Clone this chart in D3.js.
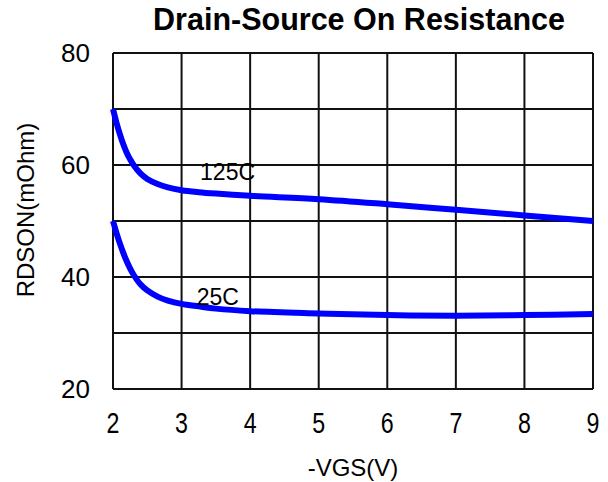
<!DOCTYPE html>
<html>
<head>
<meta charset="utf-8">
<script src="https://cdn.jsdelivr.net/npm/d3@7"></script>
<style>
  html, body { margin: 0; padding: 0; background: #fff; }
  svg { display: block; }
</style>
</head>
<body>
<script>
// Gate voltage sweep (V) and on-resistance readings (mOhm) per junction temperature
const vgs = [2, 2.05, 2.1, 2.15, 2.2, 2.25, 2.3, 2.4, 2.5, 2.65, 2.8, 3, 3.25, 3.5, 4, 5, 6, 7, 8, 9];
const rdson125 = [70, 67.6, 65.5, 63.7, 62.2, 61.0, 60.0, 58.5, 57.5, 56.6, 56.0, 55.5, 55.15, 54.9, 54.5, 53.9, 53.0, 52.0, 51.0, 50.0];
const rdson25 = [50, 47.9, 46.0, 44.3, 42.8, 41.5, 40.4, 38.7, 37.6, 36.5, 35.8, 35.2, 34.75, 34.35, 33.9, 33.5, 33.2, 33.1, 33.2, 33.4];
const seriesNames = ["125C", "25C"];
const labelAnchors = [[3.27, 57.3], [3.22, 35.0]];
const xTicks = [2, 3, 4, 5, 6, 7, 8, 9];
const yTicks = [20, 40, 60, 80];
const yGrid = [20, 30, 40, 50, 60, 70, 80];

const W = 608, H = 482;
const plotLeft = 113, plotRight = 593, plotTop = 53, plotBottom = 389;

const svg = d3.select("body").append("svg").attr("width", W).attr("height", H);

const x = d3.scaleLinear().domain([2, 9]).range([plotLeft, plotRight]);
const y = d3.scaleLinear().domain([20, 80]).range([plotBottom, plotTop]);

// Grid
const grid = svg.append("g").attr("stroke", "#111").attr("stroke-width", 2);
grid.selectAll("line.v").data(xTicks).join("line")
  .attr("class", "v")
  .attr("x1", d => x(d)).attr("x2", d => x(d))
  .attr("y1", plotTop).attr("y2", plotBottom);
grid.selectAll("line.h").data(yGrid).join("line")
  .attr("class", "h")
  .attr("x1", plotLeft).attr("x2", plotRight)
  .attr("y1", d => y(d)).attr("y2", d => y(d));

// Curves
const line = d3.line().x(d => x(d[0])).y(d => y(d[1])).curve(d3.curveCatmullRom.alpha(0.5));
[rdson125, rdson25].forEach(vals => {
  svg.append("path")
    .datum(vgs.map((v, i) => [v, vals[i]]))
    .attr("fill", "none")
    .attr("stroke", "#0000ff")
    .attr("stroke-width", 6)
    .attr("d", line);
});

// Curve labels
svg.selectAll("text.series").data(seriesNames).join("text")
  .attr("class", "series")
  .attr("x", (d, i) => x(labelAnchors[i][0]))
  .attr("y", (d, i) => y(labelAnchors[i][1]))
  .attr("font-family", "Liberation Sans, Arial, sans-serif")
  .attr("font-size", 23)
  .attr("fill", "#000")
  .text(d => d);

// X tick labels (condensed face)
svg.selectAll("text.xt").data(xTicks).join("text")
  .attr("class", "xt")
  .attr("transform", d => `translate(${x(d)},433) scale(0.8,1)`)
  .attr("text-anchor", "middle")
  .attr("font-family", "Liberation Sans, Arial, sans-serif")
  .attr("font-size", 29)
  .text(d => d);

// Y tick labels
svg.selectAll("text.yt").data(yTicks).join("text")
  .attr("class", "yt")
  .attr("x", 90)
  .attr("y", d => y(d))
  .attr("dy", "0.36em")
  .attr("text-anchor", "end")
  .attr("font-family", "Liberation Sans, Arial, sans-serif")
  .attr("font-size", 26)
  .text(d => d);

// Titles
svg.append("text")
  .attr("x", 359).attr("y", 30)
  .attr("text-anchor", "middle")
  .attr("font-family", "Liberation Sans, Arial, sans-serif")
  .attr("font-weight", "bold")
  .attr("font-size", 30.5)
  .text("Drain-Source On Resistance");

svg.append("text")
  .attr("x", (plotLeft + plotRight) / 2).attr("y", 476)
  .attr("text-anchor", "middle")
  .attr("font-family", "Liberation Sans, Arial, sans-serif")
  .attr("font-size", 24)
  .text("-VGS(V)");

svg.append("text")
  .attr("transform", "translate(34,210) rotate(-90)")
  .attr("text-anchor", "middle")
  .attr("font-family", "Liberation Sans, Arial, sans-serif")
  .attr("font-size", 24)
  .text("RDSON(mOhm)");
</script>
</body>
</html>
